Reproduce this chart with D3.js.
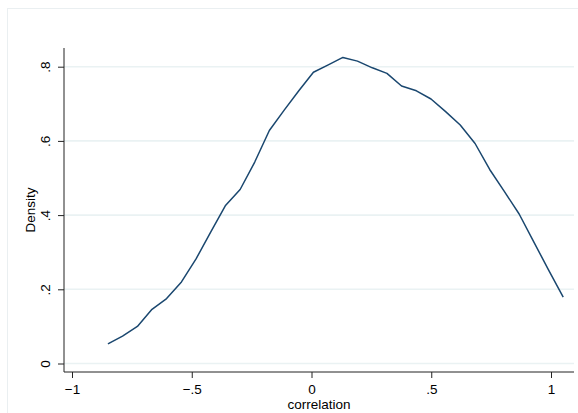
<!DOCTYPE html>
<html lang="en">
<head>
  <meta charset="UTF-8" />
  <title>Density of correlation</title>
  <style>
    body { margin: 0; padding: 0; background: #fff; }
    svg { display: block; font-family: "Liberation Sans", Arial, sans-serif; }
  </style>
</head>
<body>
  <svg id="chart"></svg>

  <script src="https://d3js.org/d3.v7.min.js"></script>
  <script>
    const width = 578, height = 413;

    // kernel density estimate
    const xValues = [-0.850, -0.789, -0.727, -0.666, -0.605, -0.543, -0.482, -0.421,
                     -0.360, -0.298, -0.237, -0.176, -0.114, -0.053, 0.008, 0.070,
                     0.131, 0.192, 0.254, 0.315, 0.376, 0.438, 0.499, 0.560,
                     0.621, 0.683, 0.744, 0.805, 0.867, 0.928, 0.989, 1.051];
    const densities = [0.053, 0.074, 0.100, 0.146, 0.175, 0.220, 0.282, 0.354,
                       0.425, 0.469, 0.543, 0.628, 0.683, 0.735, 0.785, 0.805,
                       0.825, 0.815, 0.797, 0.782, 0.748, 0.735, 0.713, 0.679,
                       0.643, 0.593, 0.523, 0.464, 0.403, 0.328, 0.253, 0.179];
    const xTicks = [-1, -0.5, 0, 0.5, 1];
    const xTickLabels = ["\u22121", "\u2212.5", "0", ".5", "1"];
    const yTicks = [0, 0.2, 0.4, 0.6, 0.8];
    const yTickLabels = ["0", ".2", ".4", ".6", ".8"];

    const plot = { left: 64, right: 574, top: 48, bottom: 372 };
    const fontSize = 13.5;

    const x = d3.scaleLinear().domain([-1, 1]).range([72, 551]);
    const y = d3.scaleLinear().domain([0, 0.8]).range([363.5, 66.7]);

    const svg = d3.select("#chart")
      .attr("width", width)
      .attr("height", height);

    // outer graph region border
    svg.append("rect")
      .attr("x", 7.5).attr("y", 8.5)
      .attr("width", 600).attr("height", 420)
      .attr("fill", "#fff")
      .attr("stroke", "#eaeff1")
      .attr("stroke-width", 1);

    // gridlines
    svg.append("g")
      .selectAll("line")
      .data(yTicks)
      .join("line")
      .attr("x1", plot.left).attr("x2", plot.right)
      .attr("y1", d => y(d)).attr("y2", d => y(d))
      .attr("stroke", "#eaf2f3")
      .attr("stroke-width", 1.6);

    // density curve
    const line = d3.line()
      .x((d, i) => x(xValues[i]))
      .y(d => y(d));

    svg.append("path")
      .datum(densities)
      .attr("d", line)
      .attr("fill", "none")
      .attr("stroke", "#1a476f")
      .attr("stroke-width", 1.5)
      .attr("stroke-linejoin", "round");

    // y axis
    const yAxis = d3.axisLeft(y)
      .tickValues(yTicks)
      .tickSize(6)
      .tickPadding(4)
      .tickFormat((d, i) => yTickLabels[i]);

    const gy = svg.append("g")
      .attr("transform", `translate(${plot.left},0)`)
      .call(yAxis);
    gy.select(".domain").remove();
    gy.append("line")
      .attr("x1", 0).attr("x2", 0)
      .attr("y1", plot.top).attr("y2", plot.bottom)
      .attr("stroke", "#222");
    gy.selectAll(".tick line").attr("stroke", "#222");
    gy.selectAll(".tick text")
      .attr("font-size", fontSize)
      .attr("fill", "#000")
      .attr("text-anchor", "middle")
      .attr("dy", null)
      .attr("x", null)
      .attr("transform", "translate(-14,0) rotate(-90)");

    // x axis
    const xAxis = d3.axisBottom(x)
      .tickValues(xTicks)
      .tickSize(6)
      .tickPadding(4)
      .tickFormat((d, i) => xTickLabels[i]);

    const gx = svg.append("g")
      .attr("transform", `translate(0,${plot.bottom})`)
      .call(xAxis);
    gx.select(".domain").remove();
    gx.append("line")
      .attr("x1", plot.left).attr("x2", plot.right)
      .attr("y1", 0).attr("y2", 0)
      .attr("stroke", "#222");
    gx.selectAll(".tick line").attr("stroke", "#222");
    gx.selectAll(".tick text")
      .attr("font-size", fontSize)
      .attr("fill", "#000")
      .attr("y", 22)
      .attr("dy", null);

    // axis titles
    svg.append("text")
      .attr("x", (plot.left + plot.right) / 2)
      .attr("y", 409)
      .attr("text-anchor", "middle")
      .attr("font-size", fontSize)
      .text("correlation");

    svg.append("text")
      .attr("transform", `translate(35,${(plot.top + plot.bottom) / 2}) rotate(-90)`)
      .attr("text-anchor", "middle")
      .attr("font-size", fontSize)
      .text("Density");
  </script>
</body>
</html>
